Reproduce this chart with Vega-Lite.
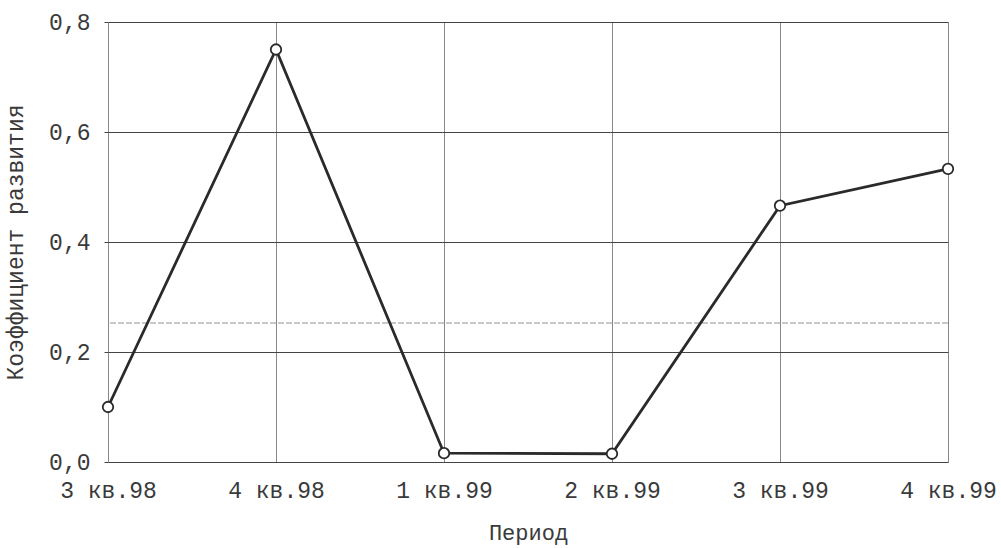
{
  "$schema": "https://vega.github.io/schema/vega-lite/v6.json",
  "width": 840,
  "height": 440,
  "autosize": {"type": "none"},
  "padding": {"left": 108, "top": 22, "right": 53, "bottom": 86},
  "background": "white",
  "data": {
    "values": [
      {"period": "3 кв.98", "k": 0.10},
      {"period": "4 кв.98", "k": 0.75},
      {"period": "1 кв.99", "k": 0.016},
      {"period": "2 кв.99", "k": 0.015},
      {"period": "3 кв.99", "k": 0.466},
      {"period": "4 кв.99", "k": 0.533}
    ]
  },
  "config": {
    "view": {"stroke": null},
    "font": "Liberation Mono",
    "axis": {
      "labelFont": "Liberation Mono",
      "titleFont": "Liberation Mono",
      "labelColor": "#3a3a3a",
      "titleColor": "#3a3a3a",
      "titleFontWeight": "normal",
      "domain": false
    }
  },
  "layer": [
    {
      "mark": {"type": "rule", "color": "#c8c8c8", "strokeWidth": 1.5, "strokeDash": [6, 2]},
      "encoding": {"y": {"datum": 0.253, "type": "quantitative"}}
    },
    {
      "mark": {"type": "line", "color": "#2a2a2a", "strokeWidth": 2.8},
      "encoding": {
        "x": {
          "field": "period",
          "type": "ordinal",
          "sort": null,
          "scale": {"type": "point", "padding": 0},
          "axis": {
            "title": "Период",
            "titleFontSize": 22,
            "titlePadding": 20,
            "labelFontSize": 23,
            "labelAngle": 0,
            "labelPadding": 17,
            "ticks": false,
            "grid": true,
            "gridColor": "#888",
            "gridWidth": 1
          }
        },
        "y": {
          "field": "k",
          "type": "quantitative",
          "scale": {"domain": [0, 0.8], "nice": false},
          "axis": {
            "title": "Коэффициент развития",
            "titleFontSize": 23,
            "titlePadding": 21,
            "labelFontSize": 23,
            "values": [0, 0.2, 0.4, 0.6, 0.8],
            "labelExpr": "replace(format(datum.value, '.1f'), '.', ',')",
            "labelPadding": 14,
            "tickSize": 4,
            "tickColor": "#444",
            "grid": true,
            "gridColor": "#444",
            "gridWidth": 1.2
          }
        }
      }
    },
    {
      "mark": {"type": "point", "shape": "circle", "filled": true, "fill": "white", "stroke": "#2a2a2a", "strokeWidth": 1.8, "size": 110, "opacity": 1},
      "encoding": {
        "x": {"field": "period", "type": "ordinal", "sort": null},
        "y": {"field": "k", "type": "quantitative"}
      }
    }
  ]
}
